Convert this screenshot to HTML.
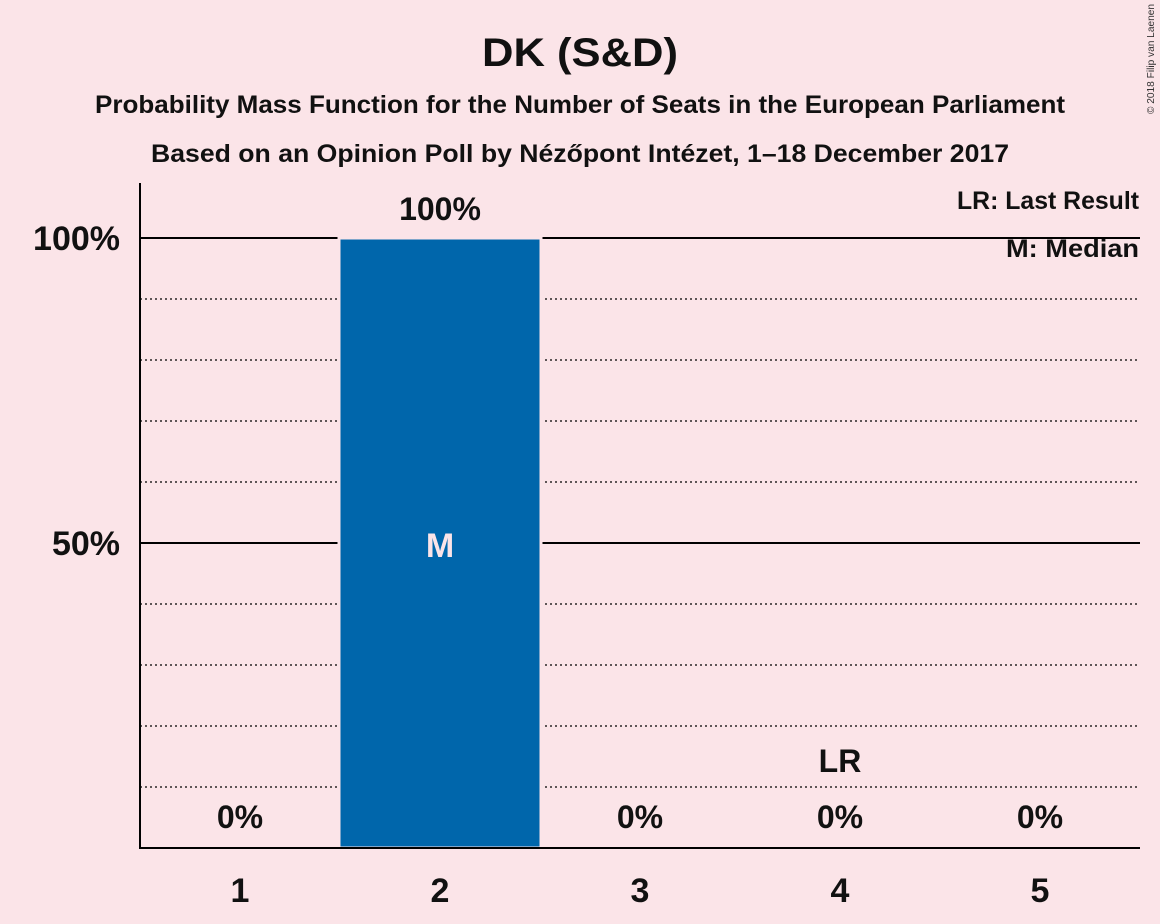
<!DOCTYPE html>
<html><head><meta charset="utf-8"><style>
html,body{margin:0;padding:0;background:#fbe4e8;}
svg{display:block;font-family:"Liberation Sans",sans-serif;font-weight:bold;}
</style></head><body>
<svg id="chart" width="1160" height="924" viewBox="0 0 1160 924">
<rect width="1160" height="924" fill="#fbe4e8"/>
<text x="580" y="66" text-anchor="middle" font-size="40" fill="#111" textLength="196" lengthAdjust="spacingAndGlyphs">DK (S&amp;D)</text>
<text x="580" y="113" text-anchor="middle" font-size="25" fill="#111" textLength="970" lengthAdjust="spacingAndGlyphs">Probability Mass Function for the Number of Seats in the European Parliament</text>
<text x="580" y="162" text-anchor="middle" font-size="25" fill="#111" textLength="858" lengthAdjust="spacingAndGlyphs">Based on an Opinion Poll by Nézőpont Intézet, 1–18 December 2017</text>
<text x="1154" y="114" font-size="10" font-weight="normal" fill="#333" transform="rotate(-90 1154 114)" textLength="110" lengthAdjust="spacingAndGlyphs">© 2018 Filip van Laenen</text>
<g id="grid"></g>
<g id="bars"></g>
<g id="labels"></g>
<line x1="140" y1="183" x2="140" y2="848" stroke="#000" stroke-width="2"/>
<line x1="139" y1="848" x2="1140" y2="848" stroke="#000" stroke-width="2"/>
<text x="1139" y="209" text-anchor="end" font-size="25" fill="#111" textLength="182" lengthAdjust="spacingAndGlyphs">LR: Last Result</text>
<text x="1139" y="257" text-anchor="end" font-size="25" fill="#111" textLength="133" lengthAdjust="spacingAndGlyphs">M: Median</text>
</svg>
<script>
const categories = [1, 2, 3, 4, 5];
const probabilities = [0, 100, 0, 0, 0];
const valueLabels = ["0%", "100%", "0%", "0%", "0%"];
const yTicks = [50, 100];
const yTickLabels = ["50%", "100%"];
const dottedTicks = [10, 20, 30, 40, 60, 70, 80, 90];
const medianSeat = 2;
const lastResultSeat = 4;

const NS = "http://www.w3.org/2000/svg";
const y = v => 848 - v * 6.1;
const x = c => 240 + (c - 1) * 200;
function mk(tag, attrs, parent, text){
  const e = document.createElementNS(NS, tag);
  for (const k in attrs) e.setAttribute(k, attrs[k]);
  if (text !== undefined) e.textContent = text;
  document.getElementById(parent).appendChild(e);
  return e;
}
dottedTicks.forEach(t => {
  const l = mk("line", {x1:140, x2:1140, y1:y(t), y2:y(t), stroke:"#000", "stroke-width":1.3, "stroke-dasharray":"2,3"}, "grid");
  
  
});
yTicks.forEach((t, i) => {
  const l = mk("line", {x1:140, x2:1140, y1:y(t), y2:y(t), stroke:"#000", "stroke-width":2}, "grid");
  
  
  const tx = mk("text", {x:120, y:y(t) + 12, "text-anchor":"end", "font-size":34, fill:"#111"}, "grid", yTickLabels[i]);
  
  
});
categories.forEach((c, i) => {
  const h = probabilities[i] * 6.1;
  if (h > 0) {
    const r = mk("rect", {x:x(c) - 101, y:y(probabilities[i]), width:202, height:h, fill:"#0066ab", stroke:"#fbe4e8", "stroke-width":3}, "bars");
    
    
  }
  const vl = mk("text", {x:x(c), y:(h > 0 ? y(probabilities[i]) - 18 : 828), "text-anchor":"middle", "font-size":32, fill:"#111"}, "labels", valueLabels[i]);
  
  
  const xl = mk("text", {x:x(c), y:902, "text-anchor":"middle", "font-size":34, fill:"#111"}, "labels", String(c));
  
  
  if (c === medianSeat) {
    const m = mk("text", {x:x(c), y:y(50) + 14, "text-anchor":"middle", "font-size":34, fill:"#fbe4e8"}, "labels", "M");
    
    
  }
  if (c === lastResultSeat) {
    const lr = mk("text", {x:x(c), y:772, "text-anchor":"middle", "font-size":32, fill:"#111"}, "labels", "LR");
    
    
  }
});
</script>
</body></html>
